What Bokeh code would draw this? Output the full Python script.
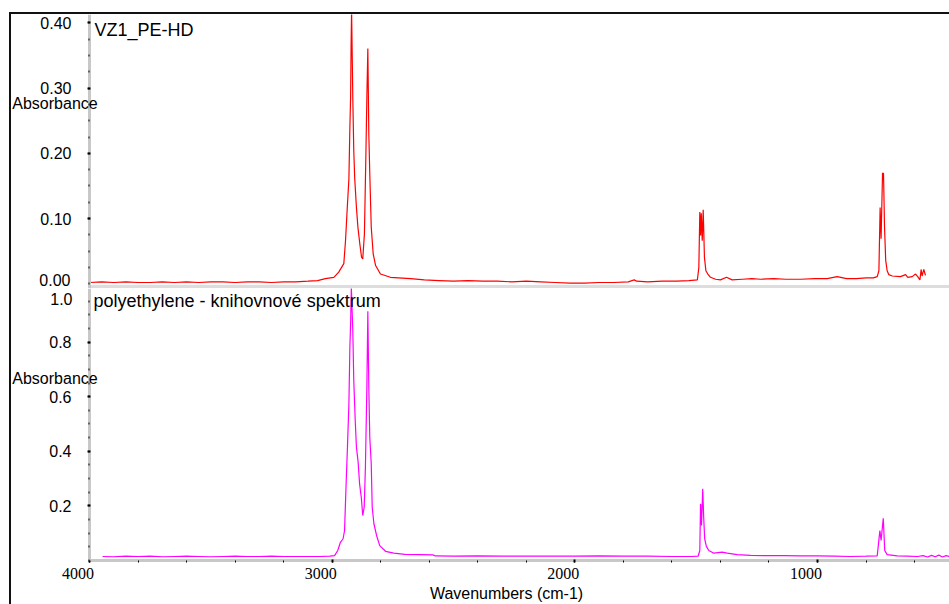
from bokeh.plotting import figure
from bokeh.layouts import column
from bokeh.models import (Range1d, FixedTicker, NumeralTickFormatter, Label,
                          LabelSet, ColumnDataSource, LinearAxis)
from bokeh.embed import file_html
from bokeh.resources import INLINE

# ---------------- data ----------------
sample_name = "VZ1_PE-HD"
library_name = "polyethylene - knihovnové spektrum"
y_label = "Absorbance"
x_label = "Wavenumbers (cm-1)"

x_major_ticks = [4000, 3000, 2000, 1000]
x_tick_labels = ["4000", "3000", "2000", "1000"]
top_y_ticks = [0.1, 0.2, 0.3, 0.4]
bottom_y_ticks = [0.2, 0.4, 0.6, 0.8]

# measured sample spectrum (red)
sample_wn = [4000, 3950, 3900, 3850, 3800, 3750, 3700, 3650, 3600, 3550,
             3500, 3450, 3400, 3350, 3300, 3250, 3200, 3150, 3100, 3060,
             3028, 2993, 2973, 2952, 2945, 2938, 2931, 2927, 2924, 2922,
             2920, 2915, 2911, 2907, 2900, 2894, 2886, 2879, 2874, 2867,
             2861, 2857, 2853, 2849, 2845, 2839, 2831, 2821, 2801, 2760,
             2677, 2620, 2560, 2500, 2440, 2380, 2320, 2260, 2200, 2140,
             2080, 2020, 1960, 1900, 1840, 1780, 1755, 1745, 1700, 1640,
             1580, 1530, 1495, 1489, 1485, 1482, 1479, 1475, 1471, 1466,
             1460, 1452, 1441, 1420, 1400, 1375, 1352, 1310, 1270, 1235,
             1180, 1130, 1070, 1010, 960, 919, 880, 840, 800, 770,
             754, 747, 742, 738, 732, 728, 724, 719, 713, 706,
             692, 658, 637, 628, 610, 596, 587, 578, 573, 569,
             562, 555]
sample_abs = [0.002, 0.003, 0.002, 0.003, 0.002, 0.002, 0.003, 0.002, 0.003, 0.002,
              0.003, 0.003, 0.002, 0.003, 0.003, 0.002, 0.003, 0.003, 0.004, 0.005,
              0.008, 0.010, 0.018, 0.031, 0.066, 0.115, 0.161, 0.240, 0.286, 0.365,
              0.420, 0.286, 0.204, 0.161, 0.117, 0.087, 0.061, 0.041, 0.038, 0.077,
              0.199, 0.286, 0.361, 0.230, 0.169, 0.087, 0.046, 0.028, 0.015, 0.010,
              0.008, 0.006, 0.005, 0.004, 0.005, 0.004, 0.004, 0.003, 0.004, 0.003,
              0.002, 0.001, 0.001, 0.002, 0.002, 0.003, 0.006, 0.004, 0.003, 0.004,
              0.004, 0.005, 0.006, 0.025, 0.110, 0.074, 0.108, 0.066, 0.1135, 0.041,
              0.020, 0.015, 0.010, 0.007, 0.006, 0.010, 0.006, 0.007, 0.008, 0.007,
              0.008, 0.007, 0.007, 0.008, 0.008, 0.011, 0.008, 0.008, 0.009, 0.009,
              0.011, 0.020, 0.117, 0.069, 0.170, 0.169, 0.089, 0.036, 0.020, 0.014,
              0.012, 0.011, 0.014, 0.010, 0.011, 0.015, 0.011, 0.006, 0.022, 0.012,
              0.022, 0.013]

# library spectrum (magenta)
library_wn = [3946, 3900, 3850, 3800, 3750, 3700, 3650, 3600, 3550, 3500,
              3450, 3400, 3350, 3300, 3250, 3200, 3150, 3100, 3050, 3010,
              2990, 2977, 2966, 2955, 2949, 2942, 2937, 2931, 2927, 2924,
              2921, 2915, 2911, 2905, 2900, 2893, 2887, 2880, 2874, 2868,
              2863, 2857, 2853, 2849, 2845, 2839, 2835, 2828, 2817, 2804,
              2780, 2746, 2700, 2636, 2585, 2575, 2500, 2400, 2300, 2200,
              2100, 2000, 1900, 1800, 1700, 1600, 1520, 1492, 1485, 1482,
              1478, 1473, 1469, 1465, 1458, 1448, 1427, 1393, 1372, 1331,
              1276, 1200, 1140, 1070, 1001, 930, 864, 800, 754, 743,
              738, 729, 723, 713, 672, 630, 588, 565, 547, 530,
              515, 500, 485, 470, 456]
library_abs = [0.014, 0.013, 0.015, 0.014, 0.015, 0.013, 0.014, 0.015, 0.014, 0.013,
               0.014, 0.015, 0.014, 0.014, 0.015, 0.014, 0.014, 0.014, 0.014, 0.015,
               0.017, 0.036, 0.066, 0.079, 0.109, 0.293, 0.415, 0.574, 0.781, 0.867,
               1.000, 0.843, 0.660, 0.513, 0.415, 0.360, 0.280, 0.231, 0.164, 0.195,
               0.341, 0.635, 0.913, 0.635, 0.451, 0.354, 0.195, 0.134, 0.091, 0.054,
               0.033, 0.026, 0.022, 0.021, 0.020, 0.016, 0.015, 0.016, 0.015, 0.015,
               0.015, 0.015, 0.016, 0.015, 0.015, 0.014, 0.014, 0.015, 0.036, 0.207,
               0.128, 0.262, 0.158, 0.079, 0.051, 0.036, 0.026, 0.030, 0.026, 0.021,
               0.018, 0.017, 0.017, 0.016, 0.016, 0.015, 0.014, 0.015, 0.016, 0.109,
               0.073, 0.154, 0.036, 0.021, 0.016, 0.015, 0.014, 0.017, 0.012, 0.018,
               0.013, 0.019, 0.012, 0.017, 0.014]

# ---------------- styling / geometry ----------------
FONT = "Liberation Sans"
AXIS_GRAY = "#c8c8c8"
X_AXIS_AT = 4000
X_RANGE = (4321.4, 456.1)      # frame covers whole canvas; axis sits at 4000
TOP_Y = (-0.0072, 0.413)
BOT_Y = (-0.1621, 0.9967)
FIG_W = 938


def base_fig(height, yr):
    p = figure(width=FIG_W, height=height, x_range=Range1d(*X_RANGE),
               y_range=Range1d(*yr), output_backend="svg", toolbar_location=None,
               x_axis_location=None, y_axis_location=None,
               min_border_left=0, min_border_right=0, min_border_top=0,
               min_border_bottom=0)
    p.outline_line_color = None
    p.xgrid.visible = False
    p.ygrid.visible = False
    p.background_fill_color = "white"
    p.border_fill_color = "white"
    return p


def style_y_axis(ax, size):
    ax.axis_line_color = AXIS_GRAY
    ax.axis_line_width = 3
    ax.major_tick_line_color = "black"
    ax.major_tick_line_width = 2
    ax.major_tick_in = 1
    ax.major_tick_out = 2
    ax.minor_tick_line_color = "black"
    ax.minor_tick_line_width = 2
    ax.minor_tick_in = 0
    ax.minor_tick_out = 1
    ax.major_label_standoff = 16
    ax.major_label_text_font = FONT
    ax.major_label_text_font_size = size
    ax.major_label_text_color = "black"


def text_label(p, x, y, text, size, align="left", xo=0, yo=0):
    p.add_layout(Label(x=x, y=y, x_offset=xo, y_offset=yo, text=text,
                       text_align=align, text_baseline="middle",
                       text_font=FONT, text_font_size=size, text_color="black"))


# ---- top panel (sample) ----
p1 = base_fig(274, TOP_Y)
p1.line(sample_wn, sample_abs, line_color="#ff0000", line_width=1.2)

ya1 = LinearAxis(fixed_location=X_AXIS_AT,
                 ticker=FixedTicker(ticks=top_y_ticks,
                                    minor_ticks=[i * 0.025 for i in range(17)]),
                 formatter=NumeralTickFormatter(format="0.00"))
style_y_axis(ya1, "16px")
p1.add_layout(ya1, "left")

xa1 = LinearAxis(fixed_location=-0.0041, bounds=(X_RANGE[1], X_AXIS_AT),
                 ticker=FixedTicker(ticks=[]))
xa1.major_label_text_color = None
xa1.major_tick_in = 0
xa1.major_tick_out = 0
xa1.minor_tick_in = 0
xa1.minor_tick_out = 0
xa1.axis_line_color = "#dddddd"
xa1.axis_line_width = 3
p1.add_layout(xa1, "below")

text_label(p1, X_AXIS_AT, 0.0, "0.00", "16px", "right", xo=-19, yo=4)
text_label(p1, X_AXIS_AT, 0.2765, y_label, "16px", "center", xo=-34.5)
text_label(p1, X_AXIS_AT, TOP_Y[1], sample_name, "18px", "left", xo=5, yo=-15.5)

# ---- bottom panel (library) ----
p2 = base_fig(316, BOT_Y)
p2.line(library_wn, library_abs, line_color="#ff00ff", line_width=1.2)

ya2 = LinearAxis(fixed_location=X_AXIS_AT, bounds=(0, BOT_Y[1]),
                 ticker=FixedTicker(ticks=bottom_y_ticks,
                                    minor_ticks=[i * 0.05 for i in range(21)]),
                 formatter=NumeralTickFormatter(format="0.0"))
style_y_axis(ya2, "16px")
p2.add_layout(ya2, "left")

xa2 = LinearAxis(fixed_location=0.0, bounds=(X_RANGE[1], X_AXIS_AT),
                 ticker=FixedTicker(ticks=x_major_ticks,
                                    minor_ticks=list(range(4000, 400, -200))))
xa2.major_label_text_color = None
xa2.axis_line_color = AXIS_GRAY
xa2.axis_line_width = 3
xa2.major_tick_line_color = "black"
xa2.major_tick_line_width = 2
xa2.major_tick_in = 1
xa2.major_tick_out = 2
xa2.minor_tick_line_color = "black"
xa2.minor_tick_line_width = 1
xa2.minor_tick_in = 0
xa2.minor_tick_out = 2
p2.add_layout(xa2, "below")

text_label(p2, X_AXIS_AT, 1.0, "1.0", "16px", "right", xo=-17, yo=-11)
text_label(p2, X_AXIS_AT, 0.6678, y_label, "16px", "center", xo=-34.5)
text_label(p2, X_AXIS_AT, BOT_Y[1], library_name, "18px", "left", xo=4, yo=-12.5)

tick_src = ColumnDataSource(dict(x=x_major_ticks, y=[0.0] * len(x_major_ticks),
                                 text=x_tick_labels))
p2.add_layout(LabelSet(x="x", y="y", text="text", source=tick_src, x_offset=-11.5,
                       y_offset=-13.2, text_align="center", text_baseline="middle",
                       text_font=FONT, text_font_size="16px", text_color="black"))
text_label(p2, 2281.6, 0.0, x_label, "16px", "center", yo=-33.2)

layout = column(p1, p2, spacing=0,
                styles={"margin-left": "9px", "margin-top": "12px",
                        "border-left": "2px solid #111111",
                        "border-top": "2px solid #111111"})

open("out.html", "w").write(file_html(layout, INLINE))
